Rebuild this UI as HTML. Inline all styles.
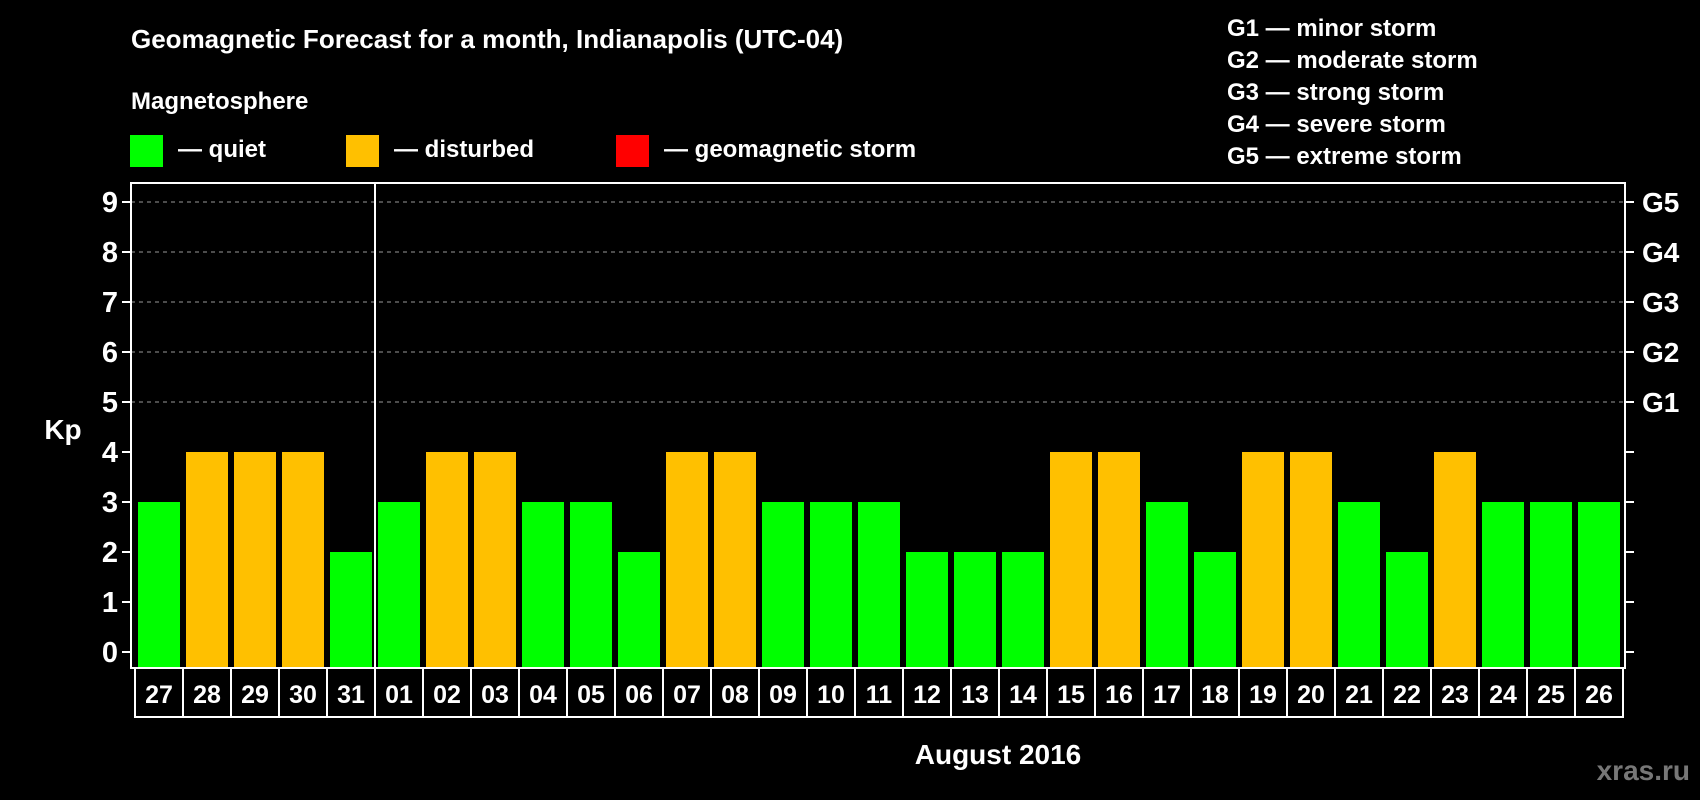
<!DOCTYPE html>
<html><head><meta charset="utf-8"><style>
html,body{margin:0;padding:0;background:#000;}
svg{display:block;font-family:"Liberation Sans",Arial,sans-serif;font-weight:bold;}
</style></head><body>
<svg id="chart" width="1700" height="800" viewBox="0 0 1700 800" xmlns="http://www.w3.org/2000/svg">
<rect x="0" y="0" width="1700" height="800" fill="#000"/>
<text x="131" y="48" fill="#fff" font-size="26">Geomagnetic Forecast for a month, Indianapolis (UTC-04)</text>
<text x="131" y="109" fill="#fff" font-size="24">Magnetosphere</text>
<g><rect x="130" y="135" width="33" height="32" fill="#00ff00"/><text x="178" y="157" fill="#fff" font-size="24">— quiet</text></g>
<g><rect x="346" y="135" width="33" height="32" fill="#ffc000"/><text x="394" y="157" fill="#fff" font-size="24">— disturbed</text></g>
<g><rect x="616" y="135" width="33" height="32" fill="#ff0000"/><text x="664" y="157" fill="#fff" font-size="24">— geomagnetic storm</text></g>
<g font-size="24" fill="#fff">
<text x="1227" y="36">G1 — minor storm</text>
<text x="1227" y="68">G2 — moderate storm</text>
<text x="1227" y="100">G3 — strong storm</text>
<text x="1227" y="132">G4 — severe storm</text>
<text x="1227" y="164">G5 — extreme storm</text>
</g>
<g id="grid"></g>
<g id="bars"></g>
<g id="axes"></g>
<text x="63" y="439" fill="#fff" font-size="28" text-anchor="middle">Kp</text>
<text x="998" y="764" fill="#fff" font-size="28" text-anchor="middle">August 2016</text>
<text x="1690" y="780" fill="#777" font-size="28" text-anchor="end">xras.ru</text>
</svg>
<script>
const days = ["27","28","29","30","31","01","02","03","04","05","06","07","08","09","10","11","12","13","14","15","16","17","18","19","20","21","22","23","24","25","26"];
const kp = [3,4,4,4,2,3,4,4,3,3,2,4,4,3,3,3,2,2,2,4,4,3,2,4,4,3,2,4,3,3,3];
const yTicks = [0,1,2,3,4,5,6,7,8,9];
const gLabels = ["G1","G2","G3","G4","G5"];
const gLevels = [5,6,7,8,9];
const monthBreakIndex = 5;

const NS = "http://www.w3.org/2000/svg";
const L = 131, R = 1625, T = 183, B = 668;
const slotX0 = 135, slotW = 48;
function yS(v){ return 652 - 50 * v; }
function xS(i){ return slotX0 + slotW * i; }
function mk(tag, attrs, parent){
  const e = document.createElementNS(NS, tag);
  for (const k in attrs) e.setAttribute(k, attrs[k]);
  parent.appendChild(e); return e;
}
function color(v){ return v >= 5 ? "#ff0000" : (v >= 4 ? "#ffc000" : "#00ff00"); }
const grid = document.getElementById("grid"), bars = document.getElementById("bars"), axes = document.getElementById("axes");

gLevels.forEach((lv, i) => {
  const ln = mk("line", {x1:L, x2:R, y1:yS(lv), y2:yS(lv), stroke:"#999", "stroke-width":1, "stroke-dasharray":"4,4"}, grid);
  
  
  const t = mk("text", {x:1642, y:yS(lv)+10, fill:"#fff", "font-size":28}, axes);
  t.textContent = gLabels[i];
  
  
});

kp.forEach((v, i) => {
  const r = mk("rect", {x:xS(i)+3, y:yS(v), width:42, height:B - yS(v), fill:color(v)}, bars);
  
  
});

yTicks.forEach(v => {
  const tk = mk("line", {x1:122, x2:L, y1:yS(v), y2:yS(v), stroke:"#fff", "stroke-width":2}, axes);
  
  
  const tk2 = mk("line", {x1:R, x2:1634, y1:yS(v), y2:yS(v), stroke:"#fff", "stroke-width":2}, axes);
  
  
  const t = mk("text", {x:118, y:yS(v)+10, fill:"#fff", "font-size":29, "text-anchor":"end"}, axes);
  t.textContent = v;
  
  
});

const frame = mk("rect", {x:L, y:T, width:R-L, height:B-T, fill:"none", stroke:"#fff", "stroke-width":2}, axes);


const div = mk("line", {x1:xS(monthBreakIndex), x2:xS(monthBreakIndex), y1:T, y2:B, stroke:"#fff", "stroke-width":2}, axes);



days.forEach((d, i) => {
  const c = mk("rect", {x:xS(i), y:B, width:slotW, height:49, fill:"#000", stroke:"#fff", "stroke-width":2}, axes);
  
  
  const t = mk("text", {x:xS(i)+slotW/2, y:B+35, fill:"#fff", "font-size":25, "text-anchor":"middle"}, axes);
  t.textContent = d;
  
  
});
</script>
</body></html>
